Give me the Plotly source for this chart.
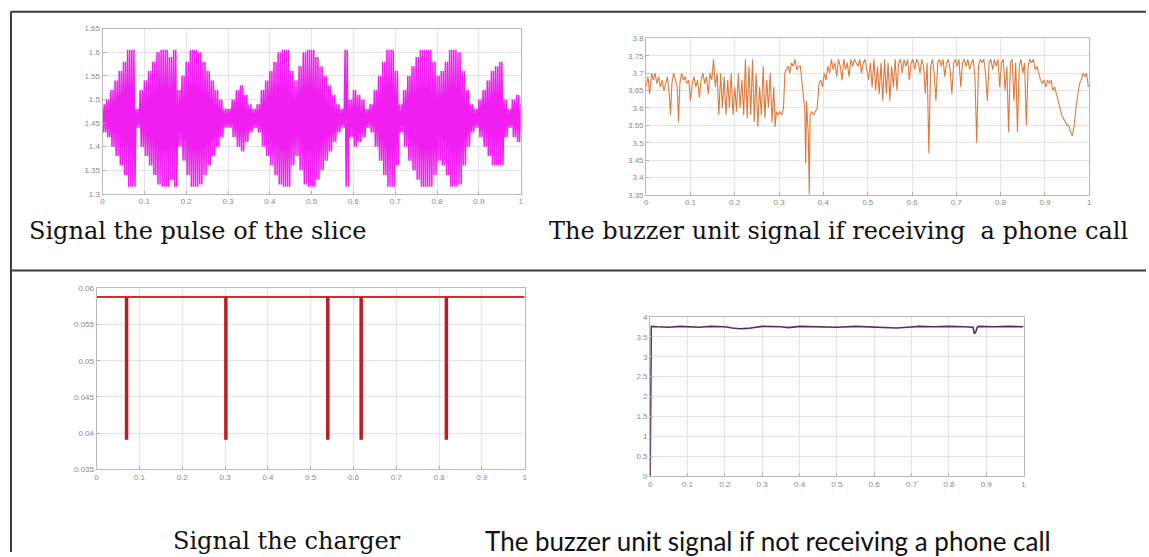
import plotly.graph_objects as go

W, H = 1149, 557

# ---------------- data ----------------
# Panel 1: pulse of the slice (upper / lower envelope read every 0.01)
pulse_t = [i / 100 for i in range(101)]
pulse_top = [1.49, 1.50, 1.52, 1.54, 1.56, 1.58, 1.605, 1.605, 1.48, 1.52,
             1.54, 1.56, 1.58, 1.60, 1.605, 1.605, 1.59, 1.605, 1.52, 1.55,
             1.58, 1.605, 1.605, 1.60, 1.58, 1.56, 1.54, 1.52, 1.50, 1.48,
             1.48, 1.50, 1.52, 1.53, 1.51, 1.49, 1.48, 1.49, 1.52, 1.54,
             1.56, 1.58, 1.60, 1.605, 1.605, 1.56, 1.54, 1.57, 1.60, 1.605,
             1.605, 1.59, 1.57, 1.55, 1.53, 1.51, 1.49, 1.48, 1.605, 1.50,
             1.52, 1.51, 1.50, 1.48, 1.49, 1.52, 1.55, 1.58, 1.605, 1.605,
             1.56, 1.49, 1.52, 1.55, 1.57, 1.59, 1.605, 1.605, 1.605, 1.58,
             1.55, 1.56, 1.58, 1.605, 1.605, 1.60, 1.56, 1.52, 1.49, 1.48,
             1.50, 1.52, 1.54, 1.56, 1.57, 1.58, 1.50, 1.48, 1.50, 1.51,
             1.49]
pulse_bot = [1.43, 1.42, 1.40, 1.38, 1.36, 1.34, 1.315, 1.315, 1.44, 1.40,
             1.38, 1.36, 1.34, 1.32, 1.315, 1.315, 1.33, 1.315, 1.40, 1.37,
             1.34, 1.315, 1.315, 1.32, 1.34, 1.36, 1.38, 1.40, 1.42, 1.44,
             1.44, 1.42, 1.40, 1.39, 1.41, 1.43, 1.44, 1.43, 1.40, 1.38,
             1.36, 1.34, 1.32, 1.315, 1.315, 1.36, 1.38, 1.35, 1.32, 1.315,
             1.315, 1.33, 1.35, 1.37, 1.39, 1.41, 1.43, 1.44, 1.315, 1.42,
             1.40, 1.41, 1.42, 1.44, 1.43, 1.40, 1.37, 1.34, 1.315, 1.315,
             1.36, 1.43, 1.40, 1.37, 1.35, 1.33, 1.315, 1.315, 1.315, 1.34,
             1.37, 1.36, 1.34, 1.315, 1.315, 1.32, 1.36, 1.40, 1.43, 1.44,
             1.42, 1.40, 1.38, 1.36, 1.36, 1.36, 1.42, 1.44, 1.42, 1.41,
             1.43]

# Panel 2: buzzer signal while receiving a call
call_t = [0.000, 0.004, 0.008, 0.012, 0.016, 0.020, 0.024, 0.028, 0.032, 0.036,
          0.040, 0.044, 0.048, 0.052, 0.055, 0.058, 0.062, 0.066, 0.070, 0.073,
          0.076, 0.080, 0.084, 0.088, 0.092, 0.096, 0.100, 0.104, 0.108, 0.112,
          0.116, 0.120, 0.124, 0.128, 0.132, 0.136, 0.140, 0.144, 0.148, 0.152,
          0.156, 0.160, 0.164, 0.168, 0.172, 0.176, 0.180, 0.184, 0.188, 0.192,
          0.196, 0.200, 0.204, 0.208, 0.212, 0.216, 0.220, 0.224, 0.228, 0.232,
          0.236, 0.240, 0.244, 0.248, 0.252, 0.256, 0.260, 0.264, 0.268, 0.272,
          0.276, 0.280, 0.284, 0.288, 0.291, 0.294, 0.298, 0.302, 0.306, 0.310,
          0.313, 0.316, 0.320, 0.324, 0.328, 0.332, 0.336, 0.340, 0.344, 0.348,
          0.352, 0.355, 0.358, 0.360, 0.362, 0.364, 0.366, 0.368, 0.370, 0.374,
          0.378, 0.382, 0.386, 0.390, 0.394, 0.398, 0.402, 0.406, 0.410, 0.414,
          0.418, 0.422, 0.426, 0.430, 0.434, 0.438, 0.442, 0.446, 0.450, 0.454,
          0.458, 0.462, 0.466, 0.470, 0.474, 0.478, 0.482, 0.486, 0.490, 0.494,
          0.498, 0.502, 0.506, 0.510, 0.514, 0.518, 0.522, 0.526, 0.530, 0.534,
          0.538, 0.542, 0.546, 0.550, 0.554, 0.558, 0.562, 0.566, 0.570, 0.574,
          0.578, 0.582, 0.586, 0.590, 0.594, 0.598, 0.602, 0.606, 0.610, 0.614,
          0.618, 0.622, 0.626, 0.630, 0.634, 0.638, 0.642, 0.646, 0.650, 0.654,
          0.658, 0.662, 0.666, 0.670, 0.674, 0.678, 0.682, 0.686, 0.690, 0.694,
          0.698, 0.702, 0.706, 0.710, 0.714, 0.718, 0.722, 0.726, 0.730, 0.734,
          0.738, 0.742, 0.746, 0.750, 0.754, 0.758, 0.762, 0.766, 0.770, 0.774,
          0.778, 0.782, 0.786, 0.790, 0.794, 0.798, 0.802, 0.806, 0.810, 0.814,
          0.818, 0.822, 0.826, 0.830, 0.834, 0.838, 0.842, 0.846, 0.850, 0.854,
          0.858, 0.862, 0.866, 0.870, 0.874, 0.878, 0.882, 0.886, 0.890, 0.894,
          0.898, 0.902, 0.906, 0.910, 0.914, 0.918, 0.922, 0.926, 0.930, 0.934,
          0.938, 0.942, 0.946, 0.950, 0.954, 0.958, 0.962, 0.966, 0.970, 0.974,
          0.978, 0.982, 0.986, 0.990, 0.994, 0.998]
call_v = [3.66, 3.69, 3.64, 3.70, 3.68, 3.70, 3.67, 3.69, 3.66, 3.68,
          3.65, 3.67, 3.69, 3.64, 3.58, 3.67, 3.70, 3.68, 3.66, 3.56,
          3.67, 3.70, 3.68, 3.69, 3.67, 3.68, 3.62, 3.67, 3.69, 3.66,
          3.68, 3.63, 3.68, 3.70, 3.67, 3.69, 3.64, 3.70, 3.68, 3.74,
          3.66, 3.70, 3.58, 3.70, 3.60, 3.69, 3.58, 3.68, 3.60, 3.70,
          3.58, 3.66, 3.59, 3.70, 3.60, 3.68, 3.58, 3.74, 3.57, 3.72,
          3.58, 3.74, 3.56, 3.70, 3.545, 3.66, 3.58, 3.72, 3.57, 3.68,
          3.60, 3.70, 3.56, 3.66, 3.545, 3.59, 3.58, 3.59, 3.58, 3.60,
          3.70, 3.71, 3.72, 3.70, 3.73, 3.72, 3.74, 3.71, 3.72, 3.72,
          3.66, 3.63, 3.60, 3.44, 3.62, 3.58, 3.52, 3.35, 3.58, 3.59,
          3.58, 3.59, 3.60, 3.67, 3.68, 3.66, 3.70, 3.68, 3.72, 3.70,
          3.74, 3.71, 3.73, 3.69, 3.74, 3.72, 3.68, 3.74, 3.71, 3.73,
          3.69, 3.74, 3.72, 3.74, 3.73, 3.72, 3.74, 3.70, 3.73, 3.74,
          3.71, 3.68, 3.73, 3.66, 3.74, 3.65, 3.72, 3.64, 3.73, 3.62,
          3.74, 3.64, 3.73, 3.62, 3.72, 3.66, 3.74, 3.65, 3.73, 3.74,
          3.70, 3.74, 3.72, 3.74, 3.68, 3.73, 3.74, 3.71, 3.74, 3.73,
          3.70, 3.74, 3.72, 3.64, 3.73, 3.47, 3.72, 3.74, 3.70, 3.62,
          3.73, 3.74, 3.72, 3.74, 3.69, 3.73, 3.74, 3.71, 3.64, 3.73,
          3.74, 3.72, 3.74, 3.66, 3.73, 3.74, 3.72, 3.74, 3.71, 3.73,
          3.74, 3.69, 3.50, 3.72, 3.74, 3.73, 3.74, 3.70, 3.62, 3.73,
          3.74, 3.71, 3.74, 3.72, 3.74, 3.66, 3.73, 3.74, 3.65, 3.72,
          3.53, 3.73, 3.74, 3.62, 3.73, 3.53, 3.72, 3.74, 3.70, 3.73,
          3.55, 3.72, 3.74, 3.73, 3.74, 3.71, 3.72, 3.70, 3.68, 3.67,
          3.68, 3.66, 3.68, 3.67, 3.68, 3.65, 3.66, 3.64, 3.62, 3.60,
          3.58, 3.57, 3.56, 3.55, 3.55, 3.53, 3.52, 3.55, 3.60, 3.64,
          3.67, 3.68, 3.70, 3.69, 3.70, 3.66]

# Panel 3: charger signal (steady level with short drops)
charger_level = 0.0588
charger_drop_t = [0.070, 0.302, 0.540, 0.618, 0.817]
charger_drop_v = [0.0391, 0.0391, 0.0391, 0.0391, 0.0391]

# Panel 4: buzzer signal while not receiving a call
idle_t = [0.0, 0.001, 0.003, 0.02, 0.05, 0.08, 0.10, 0.13, 0.16, 0.20,
          0.22, 0.24, 0.26, 0.28, 0.30, 0.35, 0.37, 0.40, 0.45, 0.50,
          0.55, 0.60, 0.63, 0.66, 0.69, 0.72, 0.76, 0.80, 0.84, 0.865,
          0.868, 0.872, 0.876, 0.88, 0.92, 0.96, 1.0]
idle_v = [0.0, 3.70, 3.76, 3.75, 3.74, 3.76, 3.75, 3.74, 3.76, 3.75,
          3.72, 3.70, 3.71, 3.74, 3.76, 3.75, 3.73, 3.76, 3.75, 3.74,
          3.76, 3.75, 3.74, 3.72, 3.74, 3.76, 3.75, 3.76, 3.75, 3.74,
          3.58, 3.62, 3.74, 3.76, 3.75, 3.76, 3.75]

captions = ["Signal the pulse of the slice",
            "The buzzer unit signal if receiving  a phone call",
            "Signal the charger",
            "The buzzer unit signal if not receiving a phone call"]

# ---------------- helpers ----------------
def px(x):
    return x / W

def py(y):
    return 1 - y / H

fig = go.Figure()

# Panel 1 trace: dense oscillation between the read envelopes
zx, zy = [], []
for t, a, b in zip(pulse_t, pulse_top, pulse_bot):
    zx += [t, t + 0.0025, t + 0.005, t + 0.0075]
    zy += [a, b, a, b]
fig.add_trace(go.Scatter(x=zx, y=zy, mode="lines", line=dict(color="#f01ef0", width=1.5),
                         xaxis="x", yaxis="y", hoverinfo="skip"))

fig.add_trace(go.Scatter(x=call_t, y=call_v, mode="lines", line=dict(color="#de7a3c", width=1.1),
                         xaxis="x2", yaxis="y2", hoverinfo="skip"))

# Panel 3
fig.add_trace(go.Scatter(x=[0, 1], y=[charger_level, charger_level], mode="lines",
                         line=dict(color="#e8222c", width=2.2), xaxis="x3", yaxis="y3",
                         hoverinfo="skip"))
dx, dy = [], []
for t, v in zip(charger_drop_t, charger_drop_v):
    dx += [t, t, None]
    dy += [charger_level, v, None]
fig.add_trace(go.Scatter(x=dx, y=dy, mode="lines", line=dict(color="#c01a22", width=3.5),
                         xaxis="x3", yaxis="y3", hoverinfo="skip"))

fig.add_trace(go.Scatter(x=idle_t, y=idle_v, mode="lines", line=dict(color="#5c2c58", width=1.6),
                         xaxis="x4", yaxis="y4", hoverinfo="skip"))

# axes
boxes = {
    "": ((101, 521), (25, 193), (1.3, 1.65), 0.05),
    "2": ((647, 1092), (35, 194), (3.35, 3.8), 0.05),
    "3": ((95, 525), (289, 473), (0.035, 0.06), 0.005),
    "4": ((651, 1026), (318, 480), (0, 4), 0.5),
}
tickfont = dict(family="Liberation Sans, Arial", size=8, color="#8a8a8a")
lay = {}
for k, ((x0, x1), (y0, y1), yr, dtk) in boxes.items():
    common = dict(showgrid=True, gridcolor="#e4e4e4", gridwidth=1, zeroline=False,
                  showline=True, linecolor="#b8b8b8", linewidth=1, mirror=True,
                  ticks="inside", ticklen=3, tickcolor="#b0b0b0", tickfont=tickfont,
                  fixedrange=True)
    lay["xaxis" + k] = dict(domain=[px(x0), px(x1)], range=[0, 1], dtick=0.1, tick0=0,
                            anchor="y" + k, **common)
    lay["yaxis" + k] = dict(domain=[py(y1), py(y0)], range=list(yr), dtick=dtk, tick0=yr[0],
                            anchor="x" + k, **common)
fig.update_layout(**lay)

# captions
serif = "DejaVu Serif, Liberation Serif, serif"
annos = [
    dict(text=captions[0], x=px(25), y=py(231), font=dict(family=serif, size=24, color="#111111")),
    dict(text=captions[1], x=px(547), y=py(231), font=dict(family=serif, size=24, color="#111111")),
    dict(text=captions[2], x=px(170), y=py(546), font=dict(family=serif, size=24, color="#111111")),
    dict(text=captions[3], x=px(483), y=py(546), font=dict(family="Lato, Open Sans, sans-serif", size=26, color="#111111")),
]
for a in annos:
    a.update(xref="paper", yref="paper", xanchor="left", yanchor="middle", showarrow=False)
fig.update_layout(annotations=annos)

# table borders
line = dict(color="#3a3a3a", width=2)
fig.update_layout(shapes=[
    dict(type="line", xref="paper", yref="paper", x0=px(9), x1=1, y0=py(8), y1=py(8), line=line),
    dict(type="line", xref="paper", yref="paper", x0=px(9), x1=1, y0=py(271), y1=py(271), line=line),
    dict(type="line", xref="paper", yref="paper", x0=px(9), x1=px(9), y0=py(8), y1=0, line=line),
])

fig.update_layout(width=W, height=H, margin=dict(l=0, r=0, t=0, b=0),
                  paper_bgcolor="white", plot_bgcolor="white", showlegend=False)

fig.write_html("out.html", config={"displayModeBar": False},
               post_script="document.body.style.margin='0';document.body.style.overflow='hidden';")
